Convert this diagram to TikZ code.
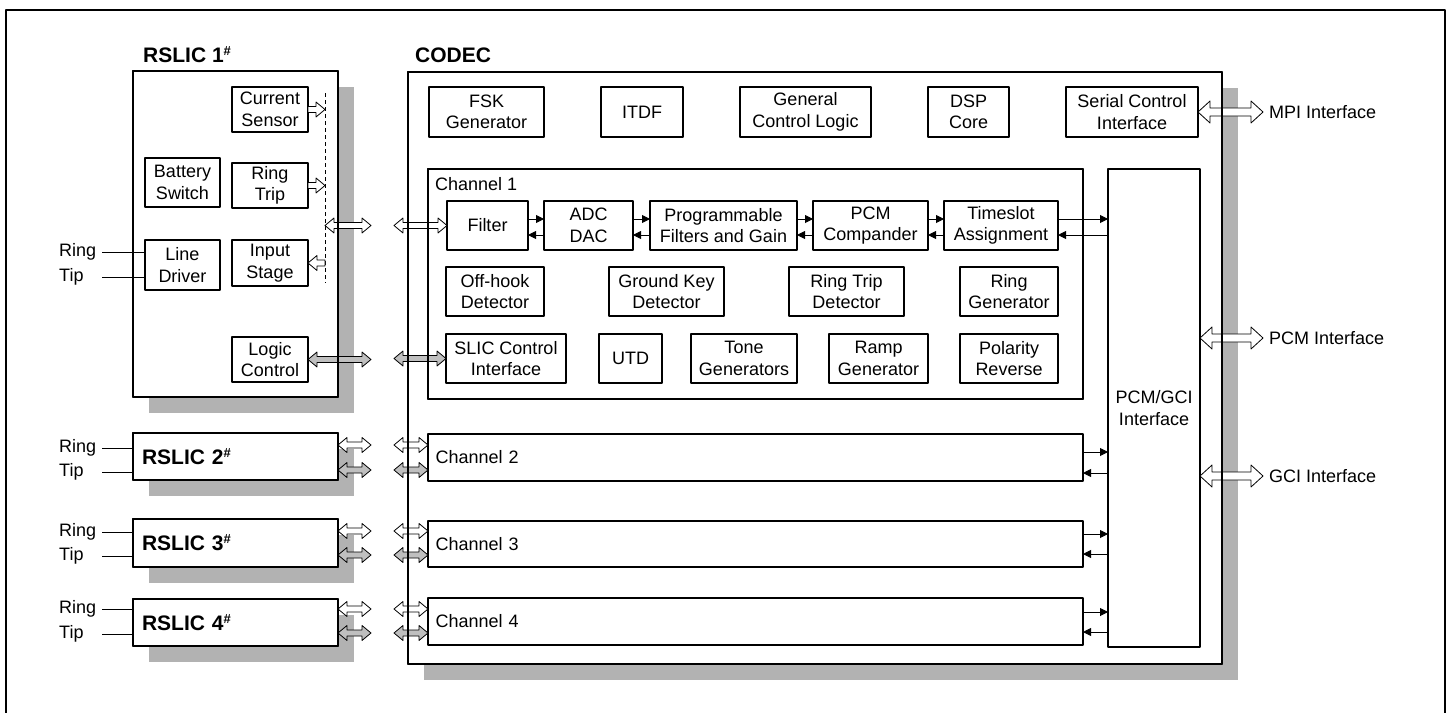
\documentclass[tikz,border=0pt]{standalone}
\usepackage{fontspec}
\setmainfont{Liberation Sans}
\usetikzlibrary{arrows.meta,calc,shadows}

\newcommand{\hashmark}{\raisebox{7pt}{\fontsize{13}{13}\selectfont\bfseries\#}}
\newcommand{\arsize}[3]{\def\arhead{#1}\def\arshaft{#2}\def\arlen{#3}}
% hollow block arrows: double (left to right) and single (head at #3)
\newcommand{\dblarrow}[3]{%
  \filldraw[fill=#1, line width=0.8pt] let \p1=#2, \p2=#3 in
    (\x1,\y1) -- (\x1+\arlen,\y1+\arhead) -- (\x1+\arlen,\y1+\arshaft) -- (\x2-\arlen,\y1+\arshaft)
    -- (\x2-\arlen,\y1+\arhead) -- (\x2,\y1) -- (\x2-\arlen,\y1-\arhead) -- (\x2-\arlen,\y1-\arshaft)
    -- (\x1+\arlen,\y1-\arshaft) -- (\x1+\arlen,\y1-\arhead) -- cycle;}
\newcommand{\sglarrow}[3]{%
  \filldraw[fill=#1, line width=0.8pt] let \p1=#2, \p2=#3, \n1={ifthenelse(\x2>\x1,1,-1)} in
    (\x1,\y1+\arshaft) -- (\x2-\n1*\arlen,\y1+\arshaft) -- (\x2-\n1*\arlen,\y1+\arhead)
    -- (\x2,\y1) -- (\x2-\n1*\arlen,\y1-\arhead) -- (\x2-\n1*\arlen,\y1-\arshaft)
    -- (\x1,\y1-\arshaft) -- cycle;}

\begin{document}
\begin{tikzpicture}[x=1pt, y=-1pt, line join=round, font=\fontsize{18}{21.5}\selectfont]
  \tikzset{blk/.style={draw, line width=1.4pt, fill=white, inner sep=0, outer sep=0, align=center, minimum height=49pt},
    chbox/.style={draw, line width=1.1pt, fill=white, inner sep=0, outer sep=0},
    chip/.style={draw, line width=2.2pt, fill=white, inner sep=0, outer sep=0, minimum width=205pt,
      drop shadow={shadow xshift=16pt, shadow yshift=-16pt, fill=black!30, opacity=1}},
    chiptitle/.style={font=\fontsize{21}{25}\selectfont\bfseries, inner sep=0},
    lbl/.style={anchor=west, inner sep=0, text width=43pt, align=left},
    iflbl/.style={anchor=west, inner xsep=6pt, inner ysep=0},
    sig/.style={-{Triangle[length=8pt,width=8pt]}, line width=0.9pt}}
  \useasboundingbox (0,0) rectangle (1447,712);
  \draw[line width=2.5pt] (6,730) -- (6,10) -- (1445,10) -- (1445,730);

  % RSLIC 1
  \node[chiptitle, anchor=base west] (r1t) at (143,62) {RSLIC 1\hashmark};
  \node[chip, minimum height=326pt] (r1) at (235.5,234) {};
  \node[blk, minimum width=76pt, minimum height=45pt] (cur) at (270,109.5) {Current\\Sensor};
  \node[blk, minimum width=75pt, minimum height=49pt] (bat) at (182.5,182.5) {Battery\\Switch};
  \node[blk, minimum width=76pt, minimum height=45pt] (rtrip) at (270,185.5) {Ring\\Trip};
  \node[blk, minimum width=75pt, minimum height=50pt] (ldrv) at (182.5,265) {Line\\Driver};
  \node[blk, minimum width=76pt, minimum height=46pt] (inp) at (270,263) {Input\\Stage};
  \node[blk, minimum width=76pt, minimum height=45pt] (logic) at (270,359.5) {Logic\\Control};
  \coordinate (bust) at (325,93);
  \coordinate (busb) at (325,283);
  \draw[dash pattern=on 4pt off 3pt, line width=0.8pt] (bust) -- (busb);

  % RSLIC 2..4
  \foreach \k/\cy/\h in {2/456.5/47, 3/543/48, 4/622.5/47}
    \node[chip, chiptitle, minimum height=\h pt, text width=187pt, align=left] (r\k) at (235.5,\cy) {RSLIC \k\hashmark};

  % CODEC
  \node[chiptitle, anchor=base west] (codect) at (415,62) {CODEC};
  \node[chip, minimum width=814pt, minimum height=592pt] (codec) at (815,368) {};
  \foreach \nm/\cx/\w/\txt in {fsk/486.5/115/{FSK\\Generator}, itdf/642/82/ITDF,
      gcl/805.5/131/{General\\Control Logic}, dsp/968.5/81/{DSP\\Core}, sci/1132/132/{Serial Control\\Interface}}
    \node[blk, minimum width=\w pt, minimum height=50pt] (\nm) at (\cx,112) {\txt};

  \node[chbox, minimum width=655pt, minimum height=230pt] (ch1) at (755.5,284) {};
  \node[anchor=base west, inner sep=0] (ch1t) at ($(ch1.north west)+(7,21)$) {Channel 1};
  \node[chbox, minimum width=92pt, minimum height=478pt, align=center] (pcm) at (1154,408) {PCM/GCI\\Interface};

  \foreach \nm/\cx/\w/\txt in {filt/487.5/81/Filter, adc/588.5/89/{ADC\\DAC}, prog/723.5/147/{Programmable\\Filters and Gain},
      comp/870.5/115/{PCM\\Compander}, tsa/1001/114/{Timeslot\\Assignment}}
    \node[blk, minimum width=\w pt] (\nm) at (\cx,225.5) {\txt};
  \foreach \nm/\cx/\w/\txt in {offh/495/98/{Off-hook\\Detector}, gkd/666.5/115/{Ground Key\\Detector},
      rtd/846.5/115/{Ring Trip\\Detector}, rgen/1009/98/{Ring\\Generator}}
    \node[blk, minimum width=\w pt] (\nm) at (\cx,291.5) {\txt};
  \foreach \nm/\cx/\w/\txt in {slic/506/120/{SLIC Control\\Interface}, utd/630.5/63/UTD, tone/744/106/{Tone\\Generators},
      ramp/878.5/99/{Ramp\\Generator}, pol/1009/98/{Polarity\\Reverse}}
    \node[blk, minimum width=\w pt] (\nm) at (\cx,358.5) {\txt};

  \foreach \k/\cy/\h in {2/457.5/47, 3/544/46, 4/621.5/47}
    \node[chbox, minimum width=655pt, minimum height=\h pt, text width=640pt, align=left] (ch\k) at (755.5,\cy) {Channel \k};

  % Ring / Tip
  \foreach \b/\yr/\yt in {ldrv/252/277, r2/448/472, r3/532/556, r4/609/634} {
    \node[lbl] (ring\b) at (59,\yr) {Ring};
    \node[lbl] (tip\b) at (59,\yt) {Tip};
    \draw[line width=0.8pt] (ring\b.east) -- (\b.west |- ring\b.east);
    \draw[line width=0.8pt] (tip\b.east) -- (\b.west |- tip\b.east);
  }

  % signal arrows
  \coordinate (up) at (0,219);
  \coordinate (dn) at (0,235);
  \foreach \a/\b in {filt/adc, adc/prog, prog/comp, comp/tsa, tsa/pcm} {
    \draw[sig] (\a.east |- up) -- (\b.west |- up);
    \draw[sig] (\b.west |- dn) -- (\a.east |- dn);
  }
  \foreach \k/\ya/\yb in {2/452/473, 3/534/554, 4/612/632} {
    \coordinate (ya) at (0,\ya);
    \coordinate (yb) at (0,\yb);
    \draw[sig] (ch\k.east |- ya) -- (pcm.west |- ya);
    \draw[sig] (pcm.west |- yb) -- (ch\k.east |- yb);
  }

  % block arrows
  \coordinate (gapl) at (371,0);
  \coordinate (gapr) at (394,0);
  \arsize{7.5pt}{3pt}{9pt}
  \sglarrow{white}{(cur.east)}{(bust |- cur.east)}
  \sglarrow{white}{(rtrip.east)}{(bust |- rtrip.east)}
  \sglarrow{white}{(bust |- inp.east)}{(inp.east)}
  \dblarrow{white}{(bust |- filt.west)}{(gapl |- filt.west)}
  \dblarrow{white}{(gapr |- filt.west)}{(filt.west)}
  \dblarrow{black!25}{(logic.east)}{(gapl |- logic.east)}
  \dblarrow{black!25}{(gapr |- slic.west)}{(slic.west)}
  \foreach \k/\ya/\yb in {2/445/470, 3/531/555, 4/609/633} {
    \coordinate (ya) at (0,\ya);
    \coordinate (yb) at (0,\yb);
    \coordinate (rk) at (r\k.east);
    \coordinate (chk) at (ch\k.west);
    \dblarrow{white}{(rk |- ya)}{(gapl |- ya)}
    \dblarrow{black!25}{(rk |- yb)}{(gapl |- yb)}
    \dblarrow{white}{(gapr |- ya)}{(chk |- ya)}
    \dblarrow{black!25}{(gapr |- yb)}{(chk |- yb)}
  }
  \node[iflbl] (mpi) at (1263,112) {MPI Interface};
  \node[iflbl] (pcmif) at (1263,338) {PCM Interface};
  \node[iflbl] (gci) at (1263,476) {GCI Interface};
  \arsize{11pt}{4pt}{12pt}
  \dblarrow{white}{(sci.east)}{(mpi.west)}
  \dblarrow{white}{(pcm.east |- pcmif.west)}{(pcmif.west)}
  \dblarrow{white}{(pcm.east |- gci.west)}{(gci.west)}

  % borders over the arrows
  \foreach \b in {r1,r2,r3,r4,codec}
    \draw[line width=2.2pt] (\b.north west) rectangle (\b.south east);
  \draw[line width=1.1pt] (ch1.north west) rectangle (ch1.south east);
\end{tikzpicture}
\end{document}
